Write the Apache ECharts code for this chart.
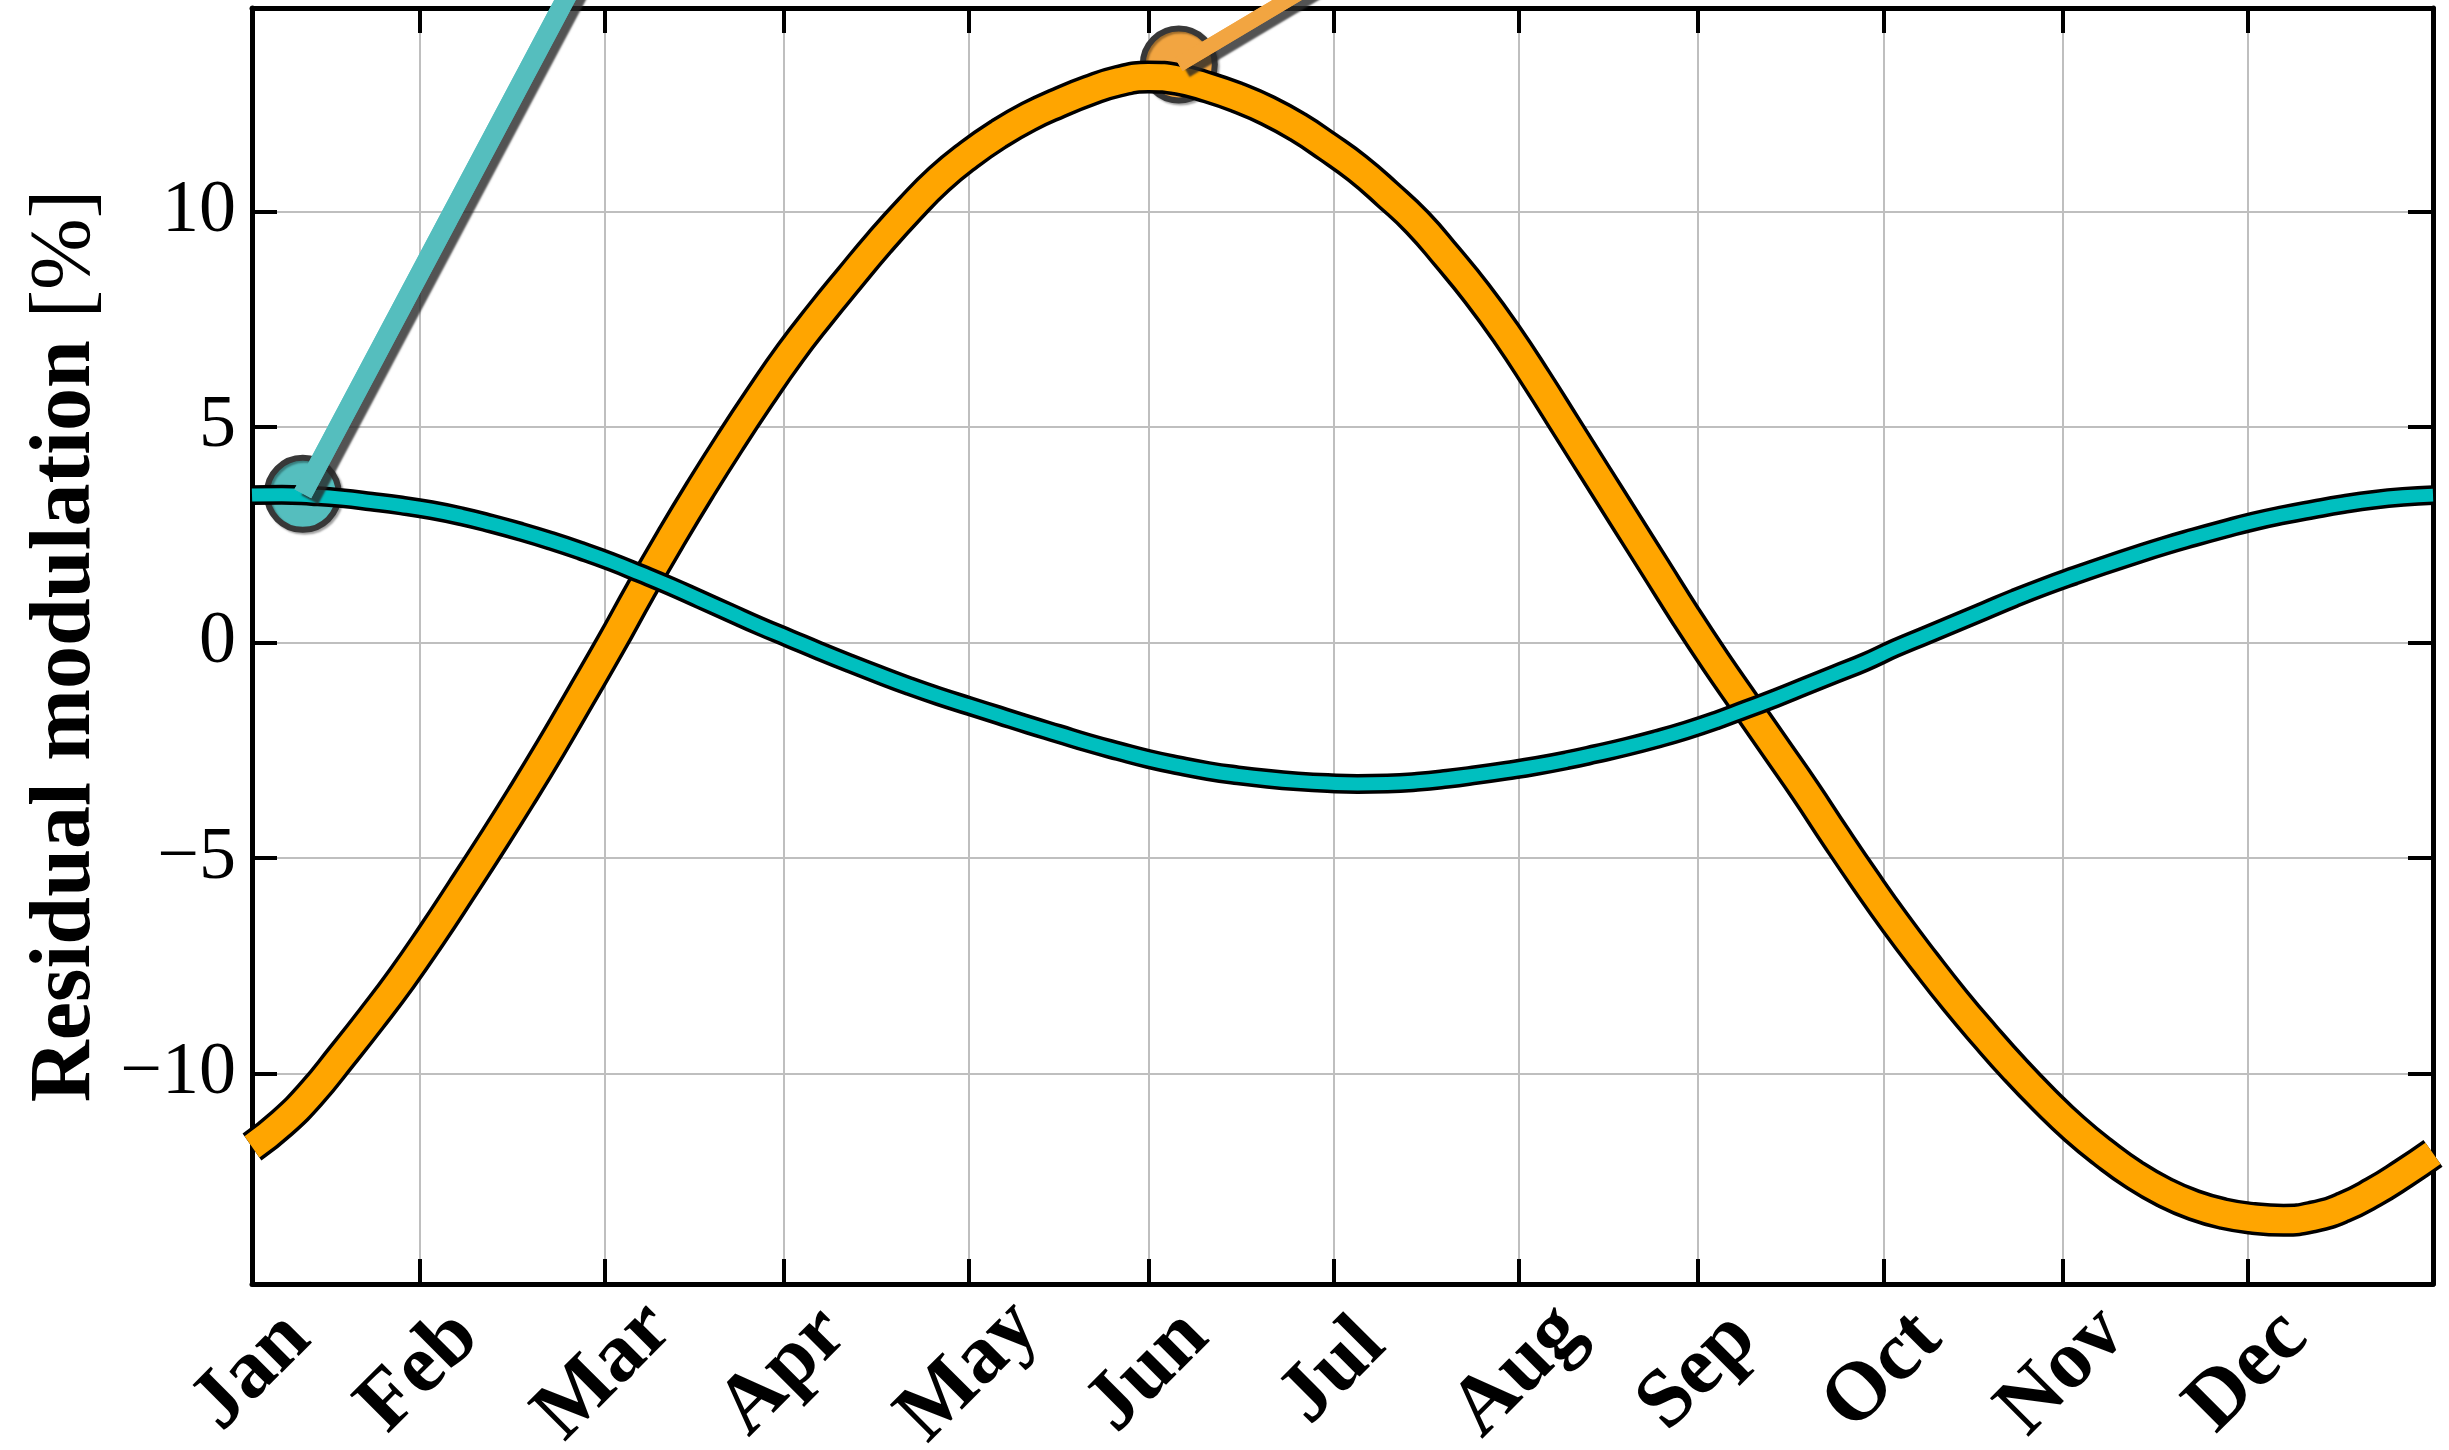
<!DOCTYPE html>
<html><head><meta charset="utf-8">
<script src="https://cdn.jsdelivr.net/npm/echarts@6.0.0/dist/echarts.min.js"></script>
<style>html,body{margin:0;padding:0;background:#fff}#c{width:2449px;height:1450px}</style>
</head><body><div id="c"></div>
<script>
// ---- data ----
const days = [0,5,10,15,20,25,30,35,40,45,50,55,60,65,70,75,80,85,90,95,100,105,110,115,120,125,130,135,140,145,150,155,160,165,170,175,180,185,190,195,200,205,210,215,220,225,230,235,240,245,250,255,260,265,270,275,280,285,290,295,300,305,310,315,320,325,330,335,340,345,350,355,360,365];
const orangeValues = [-11.70,-11.15,-10.45,-9.60,-8.72,-7.80,-6.80,-5.75,-4.68,-3.58,
  -2.44,-1.25,-0.05,1.20,2.40,3.55,4.65,5.70,6.70,7.60,
  8.45,9.28,10.05,10.75,11.32,11.80,12.20,12.52,12.80,13.02,
  13.12,13.06,12.88,12.64,12.34,11.96,11.50,11.00,10.40,9.75,
  8.95,8.10,7.15,6.10,5.00,3.90,2.80,1.70,0.60,-0.45,
  -1.45,-2.45,-3.45,-4.50,-5.52,-6.50,-7.42,-8.30,-9.12,-9.90,
  -10.62,-11.28,-11.85,-12.35,-12.75,-13.05,-13.25,-13.36,-13.40,-13.32,
  -13.10,-12.75,-12.32,-11.85];
const tealValues = [3.42,3.43,3.40,3.35,3.27,3.18,3.07,2.93,2.76,2.57,
  2.36,2.13,1.88,1.60,1.31,1.00,0.69,0.38,0.09,-0.20,
  -0.48,-0.75,-1.01,-1.25,-1.47,-1.69,-1.91,-2.12,-2.33,-2.52,
  -2.70,-2.85,-2.98,-3.08,-3.16,-3.22,-3.26,-3.28,-3.27,-3.23,
  -3.16,-3.07,-2.97,-2.86,-2.73,-2.58,-2.42,-2.24,-2.04,-1.81,
  -1.55,-1.29,-1.01,-0.73,-0.45,-0.13,0.16,0.45,0.74,1.03,
  1.30,1.55,1.79,2.02,2.24,2.44,2.63,2.81,2.96,3.09,
  3.21,3.31,3.38,3.42];
const monthTickDays = [0,28,59,89,120,150,181,212,242,273,303,334];
const monthLabels = ['Jan','Feb','Mar','Apr','May','Jun','Jul','Aug','Sep','Oct','Nov','Dec'];
const yTickValues = [-10,-5,0,5,10];
// annotation leader lines: [day, value] of marker and far end (beyond the frame)
const tealLeader = [[8.5,3.45],[75,20.81]];
const orangeLeader = [[155.1,13.41],[215,18.35]];

const xRange = [0,365];
const yRange = [-14.88,14.72];

const pair = (xs, ys) => xs.map((x,i)=>[x, ys[i]]);
const orangeData = pair(days, orangeValues);
const tealData = pair(days, tealValues);

const chart = echarts.init(document.getElementById('c'), null, {renderer:'canvas'});
const serif = "'Liberation Serif', 'Times New Roman', serif";
const fmtY = v => v < 0 ? '\u2212' + Math.abs(v) : String(v);
const fmtX = v => monthLabels[monthTickDays.indexOf(v)] || '';

const axisLineStyle = {color:'#000', width:5};
const tickStyle = {color:'#000', width:4};
const shadow = {shadowColor:'rgba(40,40,40,0.8)', shadowOffsetX:7, shadowOffsetY:6, shadowBlur:2};
const markerStyle = c => ({color:c, opacity:1, borderColor:'#383838', borderWidth:6,
  shadowColor:'rgba(0,0,0,0.35)', shadowOffsetX:2, shadowOffsetY:2, shadowBlur:2});

const option = {
  backgroundColor:'#fff',
  animation:false,
  grid:{left:252, right:16, top:8, bottom:166, containLabel:false, outerBoundsMode:'none'},
  xAxis:[{
    type:'value', min:xRange[0], max:xRange[1], position:'bottom',
    axisLine:{show:true, onZero:false, lineStyle:axisLineStyle},
    axisTick:{show:true, inside:true, length:25, lineStyle:tickStyle, customValues:monthTickDays},
    axisLabel:{show:true, customValues:monthTickDays, formatter:fmtX, rotate:45, align:'center', verticalAlign:'middle',
      margin:88, fontFamily:serif, fontWeight:'bold', fontSize:83, color:'#000'},
    splitLine:{show:true, lineStyle:{color:'#bfbfbf', width:2}}
  },{
    type:'value', min:xRange[0], max:xRange[1], position:'top',
    axisLine:{show:true, onZero:false, lineStyle:axisLineStyle},
    axisTick:{show:true, inside:true, length:25, lineStyle:tickStyle, customValues:monthTickDays},
    axisLabel:{show:false}, splitLine:{show:false}
  }],
  yAxis:[{
    type:'value', min:yRange[0], max:yRange[1], position:'left',
    axisLine:{show:true, onZero:false, lineStyle:axisLineStyle},
    axisTick:{show:true, inside:true, length:25, lineStyle:tickStyle, customValues:yTickValues},
    axisLabel:{show:true, customValues:yTickValues, formatter:fmtY, margin:16,
      fontFamily:serif, fontSize:74, color:'#000'},
    splitLine:{show:true, lineStyle:{color:'#bfbfbf', width:2}},
    name:'{b|Residual modulation\u00a0}{n|[%]}',
    nameLocation:'middle', nameRotate:90, nameGap:140,
    nameTextStyle:{rich:{
      b:{fontFamily:serif, fontWeight:'bold', fontSize:86, color:'#000'},
      n:{fontFamily:serif, fontWeight:'normal', fontSize:86, color:'#000'}
    }}
  },{
    type:'value', min:yRange[0], max:yRange[1], position:'right',
    axisLine:{show:true, onZero:false, lineStyle:axisLineStyle},
    axisTick:{show:true, inside:true, length:25, lineStyle:tickStyle, customValues:yTickValues},
    axisLabel:{show:false}, splitLine:{show:false}
  }],
  series:[
    {type:'line', data:orangeData, smooth:true, symbol:'none', silent:true,
      lineStyle:{color:'#000', width:33, cap:'butt', join:'round'}},
    {type:'line', data:orangeData, smooth:true, symbol:'none', silent:true,
      lineStyle:{color:'#FFA500', width:26, cap:'butt', join:'round'}},
    {type:'line', data:tealData, smooth:true, symbol:'none', silent:true,
      lineStyle:{color:'#000', width:20, cap:'butt', join:'round'}},
    {type:'line', data:tealData, smooth:true, symbol:'none', silent:true,
      lineStyle:{color:'#00BFBF', width:13, cap:'butt', join:'round'}},
    // teal annotation: shadowed leader, marker, leader again on top (no shadow)
    {type:'line', data:tealLeader, symbol:'none', clip:false, silent:true,
      lineStyle:Object.assign({color:'#55BEBE', width:19}, shadow)},
    {type:'scatter', data:[tealLeader[0]], symbol:'circle', symbolSize:72, clip:false, silent:true,
      itemStyle:markerStyle('#55BEBE')},
    {type:'line', data:tealLeader, symbol:'none', clip:false, silent:true,
      lineStyle:{color:'#55BEBE', width:19}},
    // orange annotation
    {type:'line', data:orangeLeader, symbol:'none', clip:false, silent:true,
      lineStyle:Object.assign({color:'#F2A541', width:15}, shadow)},
    {type:'scatter', data:[orangeLeader[0]], symbol:'circle', symbolSize:72, clip:false, silent:true,
      itemStyle:markerStyle('#F2A541')},
    {type:'line', data:orangeLeader, symbol:'none', clip:false, silent:true,
      lineStyle:{color:'#F2A541', width:15}}
  ]
};
chart.setOption(option);
</script></body></html>
